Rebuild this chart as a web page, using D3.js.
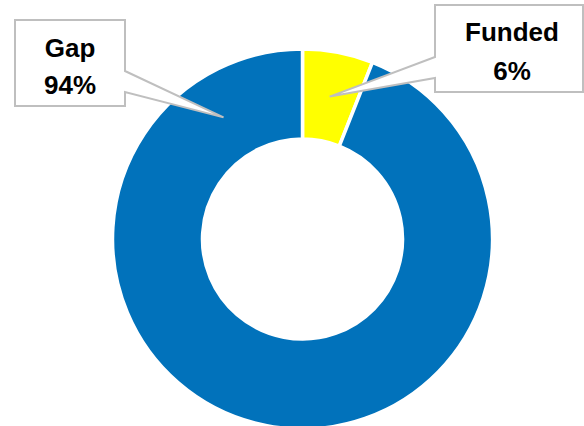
<!DOCTYPE html>
<html>
<head>
<meta charset="utf-8">
<script src="https://cdn.jsdelivr.net/npm/d3@7"></script>
<style>
  html, body { margin: 0; padding: 0; background: #ffffff; }
  #chart { width: 584px; height: 426px; overflow: hidden; }
  text { font-family: 'Liberation Sans', Arial, sans-serif; font-weight: bold; }
</style>
</head>
<body>
<div id="chart"></div>
<script>
const categories = ['Funded', 'Gap']
const values = [6, 94]
const colors = ['#ffff00', '#0172bb']

const width = 584
const height = 426
const center = { x: 302.5, y: 239 }
const outerRadius = 190
const innerRadius = 100

const svg = d3
  .select('#chart')
  .append('svg')
  .attr('width', width)
  .attr('height', height)

const pie = d3
  .pie()
  .sort(null)
  .value(d => d.value)

const arcs = pie(categories.map((name, i) => ({ name, value: values[i] })))

const arc = d3.arc().innerRadius(innerRadius).outerRadius(outerRadius)

const donut = svg
  .append('g')
  .attr('transform', `translate(${center.x}, ${center.y})`)

donut
  .selectAll('path')
  .data(arcs)
  .join('path')
  .attr('d', arc)
  .attr('fill', (d, i) => colors[i])
  .attr('stroke', '#ffffff')
  .attr('stroke-width', 3.5)

// callout boxes: box rect + where the pointer leaves the box
const midRadius = (innerRadius + outerRadius) / 2
const callouts = [
  {
    index: 1,
    box: { x0: 15, y0: 20, x1: 125, y1: 106 },
    side: 'right',
    notch: [71, 92],
    tipAngle: -33 * Math.PI / 180,
    textX: 70,
    lines: [57, 94],
  },
  {
    index: 0,
    box: { x0: 435, y0: 5, x1: 583, y1: 92 },
    side: 'left',
    notch: [57, 78],
    tipAngle: null,
    textX: 512,
    lines: [41, 80],
  },
]

callouts.forEach(c => {
  const d = arcs[c.index]
  let tip
  if (c.tipAngle === null) {
    const [cx, cy] = arc.centroid(d)
    tip = [center.x + cx, center.y + cy]
  } else {
    const [px, py] = d3.pointRadial(c.tipAngle, midRadius)
    tip = [center.x + px, center.y + py]
  }

  const { x0, y0, x1, y1 } = c.box
  const path = d3.path()
  path.moveTo(x0, y0)
  path.lineTo(x1, y0)
  if (c.side === 'right') {
    path.lineTo(x1, c.notch[0])
    path.lineTo(tip[0], tip[1])
    path.lineTo(x1, c.notch[1])
    path.lineTo(x1, y1)
    path.lineTo(x0, y1)
  } else {
    path.lineTo(x1, y1)
    path.lineTo(x0, y1)
    path.lineTo(x0, c.notch[1])
    path.lineTo(tip[0], tip[1])
    path.lineTo(x0, c.notch[0])
  }
  path.closePath()

  svg
    .append('path')
    .attr('d', path.toString())
    .attr('fill', '#ffffff')
    .attr('stroke', '#bfbfbf')
    .attr('stroke-width', 2)
    .attr('stroke-linejoin', 'miter')

  const label = [categories[c.index], `${values[c.index]}%`]
  label.forEach((t, i) => {
    svg
      .append('text')
      .attr('x', c.textX)
      .attr('y', c.lines[i])
      .attr('text-anchor', 'middle')
      .attr('font-size', 26)
      .attr('fill', '#000000')
      .text(t)
  })
})
</script>
</body>
</html>
